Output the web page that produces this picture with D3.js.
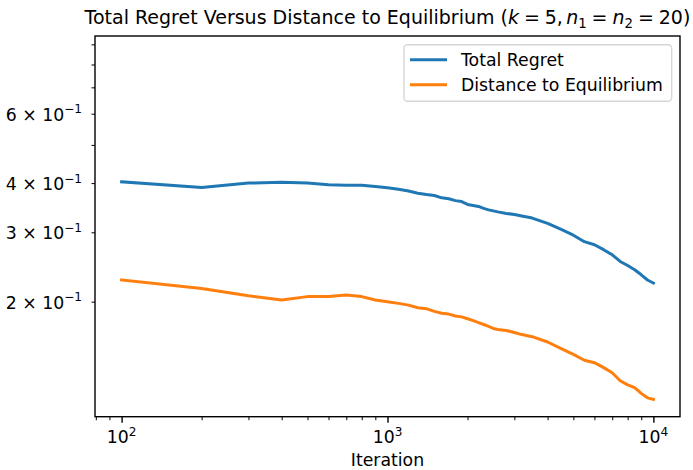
<!DOCTYPE html>
<html><head><meta charset="utf-8">
<script src="https://cdnjs.cloudflare.com/ajax/libs/d3/7.8.5/d3.min.js"></script>
<style>
body{margin:0;background:#fff}
svg{display:block}
text{font-family:"DejaVu Sans",sans-serif;fill:#000}
</style>
</head><body>
<svg id="chart" width="693" height="470"></svg>
<script>
// ---- data ----
const iterations = [100,200,300,400,500,600,700,800,900,1000,1100,1200,1300,1400,1500,1600,1700,1800,1900,2000,2100,2200,2300,2400,2500,2600,2800,3000,3200,3500,4000,4500,5000,5500,6000,6500,7000,7500,8000,8500,9000,9500,10000];
const totalRegret = [0.403,0.390,0.400,0.402,0.400,0.396,0.395,0.395,0.392,0.389,0.386,0.382,0.377,0.374,0.372,0.367,0.365,0.361,0.359,0.353,0.351,0.349,0.345,0.342,0.340,0.338,0.335,0.333,0.330,0.326,0.316,0.305,0.295,0.284,0.279,0.271,0.263,0.253,0.247,0.241,0.234,0.227,0.223];
const distanceToEquilibrium = [0.227,0.216,0.207,0.202,0.206,0.206,0.208,0.206,0.202,0.200,0.198,0.196,0.193,0.192,0.189,0.187,0.186,0.184,0.183,0.181,0.179,0.177,0.175,0.173,0.171,0.170,0.169,0.167,0.165,0.163,0.158,0.152,0.147,0.142,0.140,0.136,0.132,0.126,0.123,0.121,0.117,0.114,0.113];
const seriesNames = ["Total Regret", "Distance to Equilibrium"];
const seriesColors = ["#1f77b4", "#ff7f0e"];
const xMajorTicks = [100, 1000, 10000];
const xMajorExponents = ["2", "3", "4"];
const xMinorTicks = [80,90,200,300,400,500,600,700,800,900,2000,3000,4000,5000,6000,7000,8000,9000];
const yTicks = [0.2,0.3,0.4,0.5,0.6,0.7,0.8,0.9];
const yTickMantissas = ["2","3","4","","6","","",""];
const yTickExponent = "−1";
// title pieces: s = style (n normal, i italic, sub subscript), g = gap before (em)
const titleParts = [
  {t:"Total Regret Versus Distance to Equilibrium (", s:"n", g:0},
  {t:"k", s:"i", g:0}, {t:"=", s:"n", g:0.26}, {t:"5,", s:"n", g:0.26},
  {t:"n", s:"i", g:0.17}, {t:"1", s:"sub", g:0}, {t:"=", s:"n", g:0.26},
  {t:"n", s:"i", g:0.26}, {t:"2", s:"sub", g:0}, {t:"=", s:"n", g:0.26},
  {t:"20", s:"n", g:0.26}, {t:")", s:"n", g:0}
];
const xLabel = "Iteration";

// ---- layout ----
const L = 95, R = 680, T = 36, B = 416.7;
const FS = 17.3, TFS = 19;
const svg = d3.select("#chart");
svg.append("rect").attr("width",693).attr("height",470).attr("fill","#fff");

const x = d3.scaleLog().domain([Math.pow(10,1.9), Math.pow(10,4.1)]).range([L, R]);
const y = d3.scaleLog().domain([0.1021, 0.945]).range([B, T]);

// lines
const line = d3.line().x((d,i)=>x(iterations[i])).y(d=>y(d));
[totalRegret, distanceToEquilibrium].forEach((s,k)=>{
  svg.append("path").datum(s).attr("d", line)
    .attr("fill","none").attr("stroke", seriesColors[k])
    .attr("stroke-width", 3).attr("stroke-linejoin","round").attr("stroke-linecap","square");
});

// x axis
const gx = svg.append("g").attr("transform", `translate(0,${B})`);
gx.call(d3.axisBottom(x).tickValues(xMajorTicks).tickSize(6).tickFormat(()=>""));
gx.select(".domain").remove();
gx.selectAll(".tick line").attr("stroke","#000").attr("stroke-width",1.4);
const gxm = svg.append("g").attr("transform", `translate(0,${B})`);
gxm.call(d3.axisBottom(x).tickValues(xMinorTicks).tickSize(3.5).tickFormat(()=>""));
gxm.select(".domain").remove();
gxm.selectAll(".tick line").attr("stroke","#000").attr("stroke-width",1.0);
xMajorTicks.forEach((v,i)=>{
  const t = svg.append("text").attr("x", x(v)).attr("y", 443).attr("text-anchor","middle").attr("font-size", FS);
  t.append("tspan").text("10");
  t.append("tspan").attr("font-size", FS*0.7).attr("dy", -7.5).text(xMajorExponents[i]);
});

// y axis
const gy = svg.append("g").attr("transform", `translate(${L},0)`);
gy.call(d3.axisLeft(y).tickValues(yTicks).tickSize(3.5).tickFormat(()=>""));
gy.select(".domain").remove();
gy.selectAll(".tick line").attr("stroke","#000").attr("stroke-width",1.0);
yTicks.forEach((v,i)=>{
  if (!yTickMantissas[i]) return;
  const t = svg.append("text").attr("x", 82).attr("y", y(v)+7).attr("text-anchor","end").attr("font-size", FS);
  t.append("tspan").text(yTickMantissas[i] + " × 10");
  t.append("tspan").attr("font-size", FS*0.7).attr("dy", -7.5).text(yTickExponent);
});

// spines
svg.append("rect").attr("x",L).attr("y",T).attr("width",R-L).attr("height",B-T)
  .attr("fill","none").attr("stroke","#000").attr("stroke-width",1.4);

// title
const title = svg.append("text").attr("x",(L+R)/2).attr("y",24).attr("text-anchor","middle").attr("font-size",TFS);
titleParts.forEach((p,i)=>{
  const ts = title.append("tspan").text(p.t);
  if (p.g) ts.attr("dx", p.g*TFS);
  if (p.s==="i") ts.attr("font-style","italic");
  if (p.s==="sub") ts.attr("font-size",TFS*0.7).attr("dy",4);
  const prev = titleParts[i-1];
  if (prev && prev.s==="sub" && p.s!=="sub") ts.attr("dy",-4);
});

// x label
svg.append("text").attr("x",(L+R)/2).attr("y",466).attr("text-anchor","middle").attr("font-size",FS).text(xLabel);

// legend
const lg = svg.append("g");
lg.append("rect").attr("x",404).attr("y",44.7).attr("width",267.7).attr("height",56.6)
  .attr("rx",3.5).attr("fill","#fff").attr("fill-opacity",0.8).attr("stroke","#d6d6d6").attr("stroke-width",1.4);
seriesNames.forEach((n,k)=>{
  const yy = 59.7 + k*25;
  lg.append("line").attr("x1",410).attr("x2",447).attr("y1",yy).attr("y2",yy)
    .attr("stroke",seriesColors[k]).attr("stroke-width",3);
  lg.append("text").attr("x",461).attr("y",yy+6.2).attr("font-size",FS).text(n);
});
</script>
</body></html>
